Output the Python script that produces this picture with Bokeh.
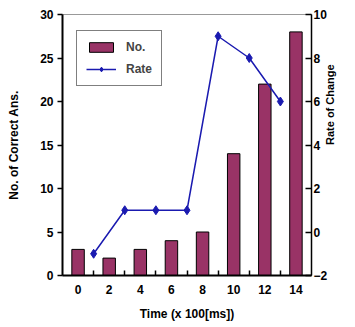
from bokeh.plotting import figure
from bokeh.models import Range1d, LinearAxis, FixedTicker, Legend, LegendItem
from bokeh.embed import file_html
from bokeh.resources import INLINE
import math

times = [0, 2, 4, 6, 8, 10, 12, 14]
counts = [3, 2, 3, 4, 5, 14, 22, 28]
rate_times = [1, 3, 5, 7, 9, 11, 13]
rates = [-1, 1, 1, 1, 9, 8, 6]
left_ticks = [0, 5, 10, 15, 20, 25, 30]
right_ticks = [-2, 0, 2, 4, 6, 8, 10]

FONT = "Liberation Sans"
BAR = "#993366"
LINE = "#1a1ab0"

p = figure(width=355, height=327, output_backend="svg", toolbar_location=None,
           x_range=Range1d(-1, 15), y_range=Range1d(0, 30),
           min_border_left=62, min_border_right=44, min_border_top=14, min_border_bottom=52)
p.extra_y_ranges = {"rate": Range1d(-2, 10)}
p.xgrid.visible = False
p.ygrid.visible = False
p.outline_line_color = "#999999"
p.outline_line_width = 1
p.background_fill_color = "white"
p.border_fill_color = "white"

bars = p.vbar(x=times, top=counts, width=0.8, fill_color=BAR, line_color="black", line_width=1)
ln = p.line(rate_times, rates, y_range_name="rate", line_color=LINE, line_width=1.5)
mk = p.scatter(rate_times, rates, y_range_name="rate", marker="diamond", size=9,
               fill_color=LINE, line_color=LINE)

xa = p.xaxis[0]
xa.ticker = FixedTicker(ticks=times, minor_ticks=rate_times)
xa.major_tick_in = 0
xa.major_tick_out = 0
xa.minor_tick_in = 5
xa.minor_tick_out = 0
xa.minor_tick_line_color = "black"
xa.minor_tick_line_width = 1.5
xa.axis_line_width = 2
xa.axis_label = "Time (x 100[ms])"

ya = p.yaxis[0]
ya.ticker = FixedTicker(ticks=left_ticks, minor_ticks=[])
ya.major_tick_in = 0
ya.major_tick_out = 5
ya.axis_line_width = 2
ya.major_tick_line_width = 1.5
ya.axis_label = "No. of Correct Ans."

ra = LinearAxis(y_range_name="rate", ticker=FixedTicker(ticks=right_ticks, minor_ticks=[]))
ra.major_tick_in = 6
ra.major_tick_out = 0
ra.axis_line_width = 1.5
ra.major_tick_line_width = 1.5
ra.axis_label = "Rate of Change"
ra.axis_label_orientation = math.pi / 2
p.add_layout(ra, "right")

for ax in (xa, ya, ra):
    ax.major_label_text_font = FONT
    ax.major_label_text_font_size = "12px"
    ax.major_label_text_font_style = "bold"
    ax.major_label_text_color = "black"
    ax.axis_label_text_font = FONT
    ax.axis_label_text_font_size = "12px"
    ax.axis_label_text_font_style = "bold"
    ax.axis_label_text_color = "black"
    ax.axis_line_color = "black"
    ax.major_tick_line_color = "black"
    ax.major_label_standoff = 4

xa.major_label_standoff = 9
xa.axis_label_standoff = 10
ya.axis_label_standoff = 16
ra.major_label_standoff = 2
ra.axis_label_standoff = 0
ra.axis_label_text_font_size = "11px"

legend = Legend(items=[LegendItem(label="No.", renderers=[bars]),
                       LegendItem(label="Rate", renderers=[ln, mk])],
                location=(14, 189))
legend.border_line_color = "black"
legend.border_line_width = 1.5
legend.label_text_font = FONT
legend.label_text_font_size = "12px"
legend.label_text_font_style = "bold"
legend.glyph_width = 30
legend.glyph_height = 12
legend.spacing = 8
legend.padding = 9
legend.margin = 0
legend.label_standoff = 10
legend.background_fill_alpha = 1
p.add_layout(legend, "center")

open("out.html", "w").write(file_html(p, INLINE))
